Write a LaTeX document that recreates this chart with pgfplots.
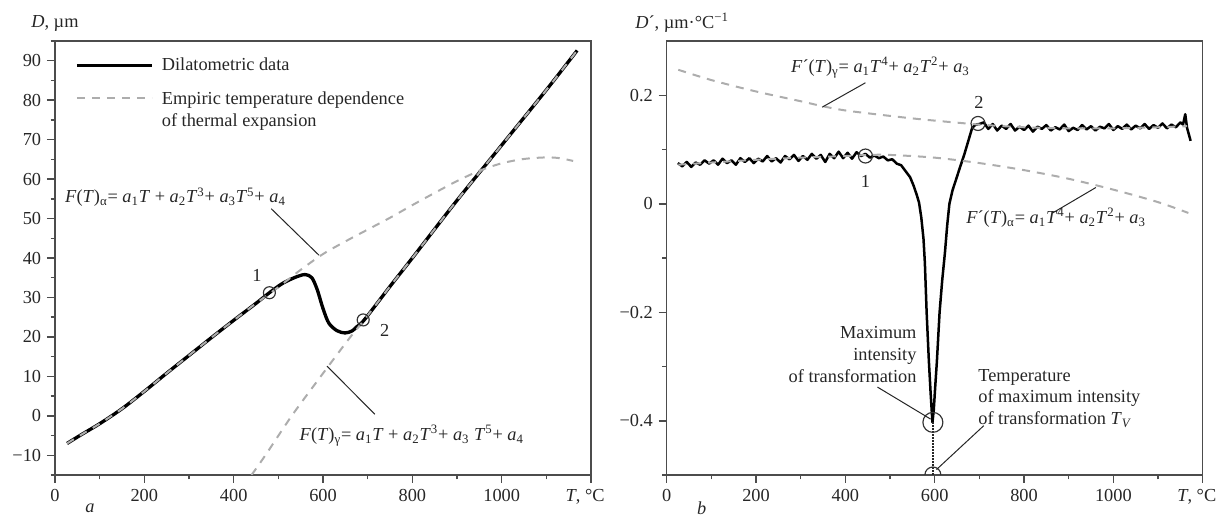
\documentclass[border=0pt]{standalone}
\usepackage{pgfplots}
\pgfplotsset{compat=1.18}
\usepackage{amsmath}
\usepackage{fontspec}
\setmainfont{Liberation Serif}

\definecolor{fitgray}{gray}{0.68}
\definecolor{axgray}{gray}{0.3}
\definecolor{txt}{gray}{0.15}
\newcommand\fs{\fontsize{11}{13}\selectfont}
\newcommand\va[1]{\textit{a}\textsubscript{#1}}
\newcommand\vT{\textit{T}}

\tikzset{lead/.style={black!85, line width=0.6pt}}
\pgfplotsset{
  panel/.style={
    scale only axis, width=321.6pt, height=260.4pt,
    xmin=0, xmax=1200,
    axis line style={axgray, line width=0.9pt},
    tick pos=left, tick align=outside,
    major tick length=4.8pt, minor tick length=2.6pt,
    tick style={axgray, line width=0.9pt},
    xtick={0,200,...,1200},
    xticklabels={0,200,400,600,800,1000,{\textit{T}, °C\kern7pt}},
    minor xtick={100,300,...,1100},
    tick label style={font=\fs, text=txt},
    every axis plot/.append style={line join=round},
  },
  fit/.style={fitgray, line width=1.2pt, dash pattern=on 4.8pt off 4.2pt},
  dil/.style={black, line width=2pt},
  ring/.style={only marks, mark=o, mark options={black!80, line width=0.7pt}},
}

\begin{document}
\begin{tikzpicture}
\path[use as bounding box] (0pt,0pt) rectangle (735.6pt,310.2pt);

% ---- panel a: dilatometric curve
\begin{axis}[panel, at={(33pt,25.2pt)}, anchor=south west,
  ymin=-15, ymax=95,
  ytick={-10,0,...,90},
  yticklabels={−10,0,10,20,30,40,50,60,70,80,90},
  minor ytick={-15,-5,...,95},
  legend style={draw=none, fill=none, at={(0.037,0.966)}, anchor=north west,
    inner sep=0pt, font=\fs, text=txt, cells={anchor=west},
    nodes={inner sep=1pt}, row sep=8pt,
    /tikz/every odd column/.append style={column sep=4pt}},
  legend image code/.code={\draw[#1] (0pt,0pt) -- (45pt,0pt);},
  extra description/.code={
    \node[anchor=base west, font=\fs, text=txt, inner sep=0pt, xshift=-14.4pt, yshift=7.8pt]
      at (rel axis cs:0,1) {\textit{D}, µm};
    \node[font=\fs\itshape, text=txt, xshift=21pt, yshift=-20pt] at (rel axis cs:0,0) {a};
  },
]
\addplot[dil, smooth, tension=0.5] coordinates {
  (27,-7.0) (60,-4.7) (100,-2.0) (150,1.8) (200,6.2) (250,10.8) (300,15.3)
  (350,19.8) (400,24.2) (450,28.5) (480,31.2) (510,33.6) (540,35.2) (560,35.8)
  (575,35.0) (587,32.0) (600,27.2) (613,23.5) (631,21.6) (649,21.0) (665,21.5)
  (676,22.6) (693,24.4) (750,32.8) (800,40.0) (900,54.6) (1000,68.6)
  (1100,82.6) (1169,92.6)
};
\addlegendentry{Dilatometric data}
\addplot[fit, smooth] coordinates {
  (27,-7.0) (60,-4.7) (100,-2.0) (150,1.8) (200,6.2) (250,10.8) (300,15.3)
  (350,19.8) (400,24.2) (450,28.5) (500,32.6) (550,37.0) (600,41.0) (650,44.2)
  (700,47.2) (750,50.2) (800,53.4) (850,56.5) (900,59.5) (950,62.1)
  (1000,64.0) (1050,65.1) (1100,65.5) (1130,65.3) (1160,64.6)
};
\addlegendentry{\smash[b]{\begin{tabular}[t]{@{}l@{}}Empiric temperature dependence\\of thermal expansion\end{tabular}}}
\addplot[fit, smooth, forget plot] coordinates {
  (440,-15) (471,-10) (530,0) (595,10) (658,19.5) (693,24.4) (750,32.8)
  (800,40.0) (900,54.6) (1000,68.6) (1100,82.6) (1169,92.6)
};
\addplot[ring, mark size=3.6pt, forget plot] coordinates {(480,31.2) (690,24.3)};

\draw[lead] (484,52.5) -- (591,40.7);
\draw[lead] (609,12.6) -- (716,0.4);
\node[anchor=base west, font=\fs, text=txt, inner sep=0pt] at (22,54)
  {\textit{F}(\vT)\textsubscript{α}= \va{1}\vT{} + \va{2}\vT\textsuperscript{3}+ \va{3}\vT\textsuperscript{5}+ \va{4}};
\node[anchor=base west, font=\fs, text=txt, inner sep=0pt] at (547,-6.2)
  {\textit{F}(\vT)\textsubscript{γ}= \va{1}\vT{} + \va{2}\vT\textsuperscript{3}+ \va{3} \vT\textsuperscript{5}+ \va{4}};
\node[font=\fs, text=txt] at (452,35.6) {1};
\node[font=\fs, text=txt] at (738,21.7) {2};
\end{axis}

% ---- panel b: derivative
\begin{axis}[panel, at={(400pt,25.2pt)}, anchor=south west,
  ymin=-0.5, ymax=0.3,
  ytick={-0.4,-0.2,0,0.2},
  yticklabels={−0.4,−0.2,0,0.2},
  minor ytick={-0.5,-0.3,-0.1,0.1},
  clip marker paths=true,
  extra description/.code={
    \node[anchor=base west, font=\fs, text=txt, inner sep=0pt, xshift=-19pt, yshift=7.8pt]
      at (rel axis cs:0,1) {\textit{D}´, µm·°C\textsuperscript{−1}};
    \node[font=\fs\itshape, text=txt, xshift=21pt, yshift=-20pt] at (rel axis cs:0,0) {b};
  },
]
\addplot[black, line width=1.5pt] coordinates {
  (25,0.075) (35,0.069) (45,0.077) (55,0.068) (65,0.076) (75,0.072) (85,0.080)
  (95,0.074) (105,0.080) (115,0.072) (125,0.083) (135,0.075) (145,0.080)
  (155,0.072) (165,0.084) (175,0.077) (185,0.084) (195,0.075) (205,0.083)
  (215,0.078) (225,0.088) (235,0.078) (245,0.084) (255,0.076) (265,0.088)
  (275,0.082) (285,0.090) (295,0.079) (305,0.088) (315,0.081) (325,0.092)
  (335,0.083) (345,0.090) (355,0.077) (365,0.092) (375,0.084) (385,0.096)
  (395,0.084) (405,0.094) (415,0.083) (425,0.095) (435,0.088) (445,0.092)
  (455,0.085) (465,0.089) (475,0.084) (485,0.087) (495,0.080) (505,0.082)
  (515,0.074) (525,0.071) (535,0.060) (545,0.049) (553,0.033) (560,0.016)
  (565,0.002) (570,-0.025) (575,-0.065) (578,-0.108) (582,-0.200) (587,-0.290)
  (591,-0.350) (595,-0.403) (598,-0.380) (601,-0.340) (605,-0.290) (611,-0.200)
  (617,-0.140) (623,-0.090) (628,-0.040) (633,0.000) (640,0.025) (648,0.045)
  (657,0.068) (666,0.090) (675,0.115) (684,0.140) (692,0.146) (700,0.147)
  (710,0.150) (720,0.138) (730,0.147) (740,0.135) (750,0.144) (760,0.138)
  (770,0.147) (780,0.135) (790,0.142) (800,0.136) (810,0.144) (820,0.133)
  (830,0.142) (840,0.138) (850,0.145) (860,0.135) (870,0.141) (880,0.137)
  (890,0.146) (900,0.134) (910,0.140) (920,0.136) (930,0.145) (940,0.137)
  (950,0.143) (960,0.135) (970,0.142) (980,0.139) (990,0.147) (1000,0.136)
  (1010,0.143) (1020,0.138) (1030,0.146) (1040,0.137) (1050,0.144) (1060,0.139)
  (1070,0.147) (1080,0.138) (1090,0.145) (1100,0.140) (1110,0.148) (1120,0.139)
  (1130,0.146) (1140,0.141) (1150,0.150) (1156,0.146) (1161,0.165) (1165,0.140)
  (1170,0.125) (1173,0.116)
};
\addplot[fit, smooth] coordinates {
  (26,0.247) (100,0.228) (200,0.207) (300,0.189) (348,0.180) (400,0.172)
  (489,0.163) (578,0.155) (700,0.146) (800,0.141) (900,0.139) (1000,0.139)
  (1100,0.141) (1165,0.143)
};
\addplot[fit, smooth] coordinates {
  (26,0.072) (100,0.076) (200,0.081) (300,0.085) (400,0.088) (450,0.090)
  (500,0.090) (600,0.085) (700,0.075) (800,0.062) (900,0.046) (1000,0.026)
  (1100,0.003) (1168,-0.017)
};
\addplot[black!85, line width=0.8pt, densely dotted] coordinates {(596,-0.403) (596,-0.5)};
\addplot[ring, mark size=4.2pt] coordinates {(445,0.088) (697,0.148)};
\addplot[ring, mark size=6pt] coordinates {(596,-0.403)};
\addplot[ring, mark size=4.8pt] coordinates {(596,-0.5)};

\draw[lead] (445,0.223) -- (348,0.178);
\draw[lead] (864,-0.017) -- (961,0.030);
\draw[lead] (472,-0.338) -- (591,-0.397);
\draw[lead] (710,-0.409) -- (604,-0.49);
\node[anchor=base west, font=\fs, text=txt, inner sep=0pt] at (278,0.242)
  {\textit{F}´(\vT)\textsubscript{γ}= \va{1}\vT\textsuperscript{4}+ \va{2}\vT\textsuperscript{2}+ \va{3}};
\node[anchor=base west, font=\fs, text=txt, inner sep=0pt] at (670,-0.036)
  {\textit{F}´(\vT)\textsubscript{α}= \va{1}\vT\textsuperscript{4}+ \va{2}\vT\textsuperscript{2}+ \va{3}};
\node[font=\fs, text=txt] at (445,0.041) {1};
\node[font=\fs, text=txt] at (699,0.186) {2};
\node[anchor=north east, align=right, font=\fs, text=txt, inner sep=0pt] at (560,-0.226)
  {Maximum\\intensity\\of transformation};
\node[anchor=north west, align=left, font=\fs, text=txt, inner sep=0pt] at (697,-0.304)
  {Temperature\\of maximum intensity\\of transformation \textit{T}\textsubscript{\textit{V}}};
\end{axis}
\end{tikzpicture}
\end{document}
